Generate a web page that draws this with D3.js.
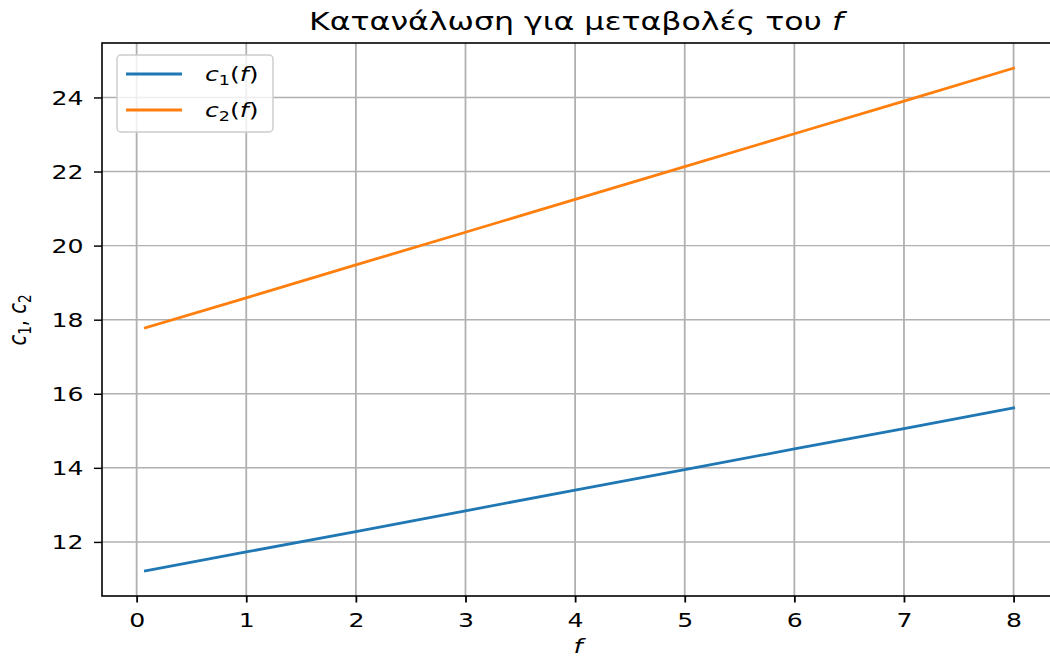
<!DOCTYPE html>
<html>
<head>
<meta charset="utf-8">
<script src="https://cdn.jsdelivr.net/npm/d3@7"></script>
<style>
  html, body { margin: 0; padding: 0; background: #fff; }
  svg { display: block; font-family: "DejaVu Sans", sans-serif; }
</style>
</head>
<body>
<svg id="chart" width="1050" height="657"></svg>
<script>
// Consumption as a function of f
const fValues = [0.08, 1, 2, 3, 4, 5, 6, 7, 8];
const c1Values = [11.22, 11.73, 12.28, 12.84, 13.40, 13.95, 14.51, 15.06, 15.62];
const c2Values = [17.78, 18.59, 19.48, 20.36, 21.25, 22.13, 23.02, 23.90, 24.79];
const xTicks = [0, 1, 2, 3, 4, 5, 6, 7, 8];
const yTicks = [12, 14, 16, 18, 20, 22, 24];
const seriesNames = ["c1", "c2"];
const seriesColors = ["#1f77b4", "#ff7f0e"];
const seriesSubs = ["1", "2"];

// the figure is drawn wider than tall, so glyphs are widened by this factor
const SX = 1.29;

const svg = d3.select("#chart");
const plot = { left: 102, right: 1057, top: 43, bottom: 596 };

const x = d3.scaleLinear().domain([-0.316, 8.396]).range([plot.left, plot.right]);
const y = d3.scaleLinear().domain([10.54, 25.47]).range([plot.bottom, plot.top]);

// grid
const grid = svg.append("g");
grid.selectAll("line.gx").data(xTicks).join("line")
  .attr("x1", d => x(d)).attr("x2", d => x(d))
  .attr("y1", plot.top).attr("y2", plot.bottom)
  .attr("stroke", "#b0b0b0").attr("stroke-width", 1.8);
grid.selectAll("line.gy").data(yTicks).join("line")
  .attr("y1", d => y(d)).attr("y2", d => y(d))
  .attr("x1", plot.left).attr("x2", plot.right)
  .attr("stroke", "#b0b0b0").attr("stroke-width", 1.45);

// axes
const xAxis = d3.axisBottom(x).tickValues(xTicks).tickSize(6.5).tickPadding(6).tickFormat(d3.format("d"));
const yAxis = d3.axisLeft(y).tickValues(yTicks).tickSize(8).tickPadding(6).tickFormat(d3.format("d"));

const gx = svg.append("g").attr("transform", `translate(0,${plot.bottom})`).call(xAxis);
const gy = svg.append("g").attr("transform", `translate(${plot.left},0)`).call(yAxis);
[gx, gy].forEach(g => {
  g.select(".domain").remove();
  g.selectAll(".tick line").attr("stroke", "#000").attr("stroke-width", 1.45);
  g.selectAll(".tick text").attr("font-family", "DejaVu Sans").attr("font-size", 19.5).attr("fill", "#000");
});
gx.selectAll(".tick line").attr("stroke-width", 1.8);
gx.selectAll(".tick text")
  .attr("y", 0).attr("dy", null)
  .attr("transform", `translate(0,30.5) scale(${SX},1)`);
gy.selectAll(".tick text")
  .attr("x", 0).attr("dy", "0.36em")
  .attr("transform", `translate(-18.5,0) scale(${SX},1)`);

// series
const line = d3.line().x(d => x(d[0])).y(d => y(d[1]));
[c1Values, c2Values].forEach((vals, i) => {
  svg.append("path")
    .datum(fValues.map((f, j) => [f, vals[j]]))
    .attr("d", line)
    .attr("fill", "none")
    .attr("stroke", seriesColors[i])
    .attr("stroke-width", 2.8)
    .attr("stroke-linecap", "square");
});

// spines
svg.append("rect")
  .attr("x", plot.left).attr("y", plot.top)
  .attr("width", plot.right - plot.left).attr("height", plot.bottom - plot.top)
  .attr("fill", "none").attr("stroke", "#000").attr("stroke-width", 1.6);

// title
const title = svg.append("text")
  .attr("transform", `translate(576,30) scale(${SX},1)`)
  .attr("text-anchor", "middle")
  .attr("font-size", 24.5).attr("fill", "#000");
title.append("tspan").text("Κατανάλωση για μεταβολές του ");
title.append("tspan").attr("font-style", "italic").text("f");

// axis labels
svg.append("text")
  .attr("transform", `translate(578,653) scale(${SX},1)`)
  .attr("text-anchor", "middle").attr("font-size", 20).attr("font-style", "italic")
  .text("f");

const yl = svg.append("text")
  .attr("transform", `translate(26,320) scale(${SX},1) rotate(-90)`)
  .attr("text-anchor", "middle").attr("font-size", 19.5).attr("font-style", "italic");
yl.append("tspan").text("c");
yl.append("tspan").attr("font-size", 13.6).attr("font-style", "normal").attr("dy", 3.5).text("1");
yl.append("tspan").attr("dy", -3.5).attr("font-style", "normal").text(", ");
yl.append("tspan").text("c");
yl.append("tspan").attr("font-size", 13.6).attr("font-style", "normal").attr("dy", 3.5).text("2");

// legend
const legend = svg.append("g");
legend.append("rect")
  .attr("x", 117).attr("y", 55).attr("width", 156).attr("height", 77)
  .attr("rx", 4).attr("ry", 4)
  .attr("fill", "#fff").attr("fill-opacity", 0.8)
  .attr("stroke", "#cccccc").attr("stroke-width", 1.45);
seriesNames.forEach((name, i) => {
  const yy = 74 + i * 36;
  legend.append("line")
    .attr("x1", 126).attr("x2", 182).attr("y1", yy).attr("y2", yy)
    .attr("stroke", seriesColors[i]).attr("stroke-width", 2.8);
  const t = legend.append("text")
    .attr("transform", `translate(205,${yy + 7}) scale(${SX},1)`)
    .attr("font-size", 19.5).attr("font-style", "italic");
  t.append("tspan").text("c");
  t.append("tspan").attr("font-size", 13.6).attr("font-style", "normal").attr("dy", 3.5).text(seriesSubs[i]);
  t.append("tspan").attr("dy", -3.5).attr("font-style", "normal").text("(");
  t.append("tspan").text("f");
  t.append("tspan").attr("font-style", "normal").text(")");
});
</script>
</body>
</html>
